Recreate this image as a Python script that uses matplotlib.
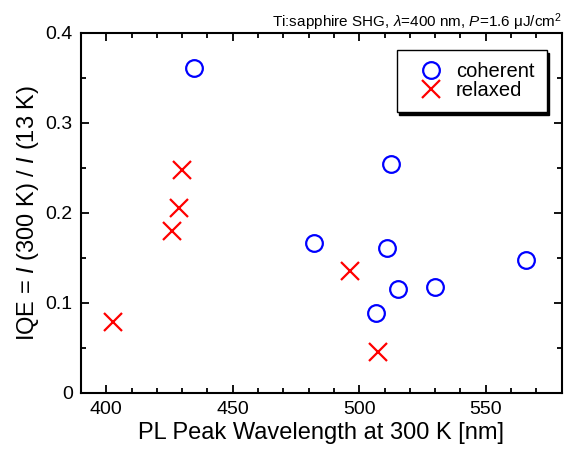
import matplotlib
matplotlib.use('Agg')
import matplotlib.pyplot as plt
from matplotlib.ticker import MultipleLocator, FuncFormatter

plt.rcParams['font.family'] = ['Liberation Sans', 'DejaVu Sans']
plt.rcParams['mathtext.fontset'] = 'custom'
plt.rcParams['mathtext.rm'] = 'Liberation Sans'
plt.rcParams['mathtext.it'] = 'Liberation Sans:italic'

# data
coherent_wl = [434.7, 482.3, 512.6, 510.8, 515.4, 530.0, 506.6, 565.8]
coherent_iqe = [0.361, 0.167, 0.254, 0.161, 0.116, 0.118, 0.0885, 0.148]
relaxed_wl = [430.0, 428.8, 425.8, 402.7, 496.5, 507.3]
relaxed_iqe = [0.248, 0.206, 0.180, 0.079, 0.136, 0.045]

fig = plt.figure(figsize=(5.69, 4.53), dpi=100)
ax = fig.add_axes([0.1424, 0.1325, 0.8446, 0.7947])

ax.plot(coherent_wl, coherent_iqe, 'o', ms=12, mfc='none', mec='#0000ff', mew=1.6,
        label='coherent', ls='none')
ax.plot(relaxed_wl, relaxed_iqe, 'x', ms=13, mec='#ff0000', mew=1.6,
        label='relaxed', ls='none')

ax.set_xlim(390, 580)
ax.set_ylim(0, 0.4)
ax.xaxis.set_major_locator(MultipleLocator(50))
ax.xaxis.set_minor_locator(MultipleLocator(10))
ax.yaxis.set_major_locator(MultipleLocator(0.1))
ax.yaxis.set_minor_locator(MultipleLocator(0.05))
ax.yaxis.set_major_formatter(FuncFormatter(lambda v, p: '%g' % round(v, 2)))

ax.tick_params(which='both', direction='in', top=True, right=True, width=1.3,
               labelsize=14, pad=6)
ax.tick_params(which='major', length=6)
ax.tick_params(which='minor', length=3.5)
for s in ax.spines.values():
    s.set_linewidth(1.5)

ax.set_xlabel('PL Peak Wavelength at 300 K [nm]', fontsize=17, labelpad=3)
ax.set_ylabel(r'IQE = $\mathit{I}$ (300 K) / $\mathit{I}$ (13 K)', fontsize=17, labelpad=3)
ax.set_title(r'Ti:sapphire SHG, $\mathit{\lambda}$=400 nm, $\mathit{P}$=1.6 μJ/cm$^2$',
             fontsize=11, loc='right', pad=4)

leg = ax.legend(loc='upper right', bbox_to_anchor=(0.969, 0.953), fontsize=14.5,
                frameon=True, fancybox=False, shadow={'color': 'black', 'alpha': 1},
                edgecolor='black', framealpha=1, borderpad=0.6, borderaxespad=0,
                handlelength=2.2, handletextpad=0.15, labelspacing=0.0)
leg.get_frame().set_linewidth(1.0)

fig.savefig('out.png', dpi=100)
